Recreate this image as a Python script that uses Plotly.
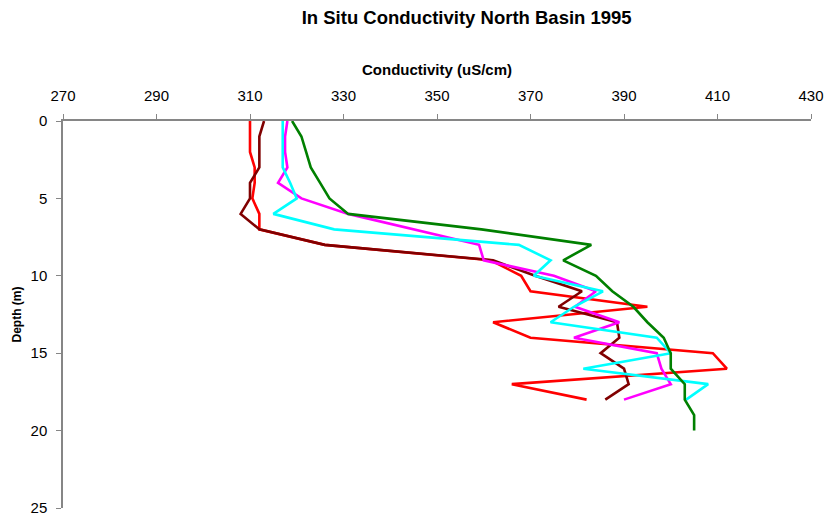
import plotly.graph_objects as go

# Depth of each reading (m)
depth = [0, 1, 2, 3, 4, 5, 6, 7, 8, 9, 10, 11, 12, 13, 14, 15, 16, 17, 18]
depth_long = [0, 1, 2, 3, 4, 5, 6, 7, 8, 9, 10, 11, 12, 13, 14, 15, 16, 17, 18, 19, 20]

# Conductivity profiles (uS/cm)
cond_red = [310, 310, 310, 311, 311, 310.5, 312, 312, 326, 361.5, 368, 370, 395,
            362, 370, 409, 412, 366, 382]
cond_maroon = [313, 312, 312, 312, 310, 310, 308, 312, 326, 362, 371, 381, 376,
               388.5, 389, 385, 390, 391, 386]
cond_magenta = [318, 317.5, 317.5, 318, 316, 321, 331, 345, 359, 360, 375, 384,
                379.5, 389, 379.3, 397, 398, 400, 390]
cond_cyan = [317, 317, 317, 317, 318.6, 320, 315, 328, 367.5, 374.3, 370.7, 385.5,
             379.3, 374.3, 397, 400, 381.3, 408, 403.3]
cond_green = [319, 321, 322, 323, 325, 327, 331, 359.5, 383, 377, 384, 387.5, 392,
              395, 398.5, 400, 400, 403, 403, 405, 405]

x_ticks = [270, 290, 310, 330, 350, 370, 390, 410, 430]
y_ticks = [0, 5, 10, 15, 20, 25]

series = [
    (cond_red, depth, "#FF0000"),
    (cond_maroon, depth, "#800000"),
    (cond_magenta, depth, "#FF00FF"),
    (cond_cyan, depth, "#00FFFF"),
    (cond_green, depth_long, "#008000"),
]

fig = go.Figure()
for xs, ys, color in series:
    fig.add_trace(go.Scatter(x=xs, y=ys, mode="lines",
                             line=dict(color=color, width=2.6),
                             showlegend=False, hoverinfo="skip"))

font_family = "Liberation Sans, Arial, sans-serif"
axis_color = "#868686"

fig.update_layout(
    width=827, height=517,
    margin=dict(l=63, r=16, t=121, b=9),
    paper_bgcolor="white", plot_bgcolor="white",
    font=dict(family=font_family, size=15, color="black"),
    title=dict(text="<b>In Situ Conductivity North Basin 1995</b>",
               x=0.5643, xanchor="center", y=0.967, yanchor="middle",
               font=dict(size=18.5, family=font_family)),
    xaxis=dict(
        side="top", range=[270, 430], tickvals=x_ticks,
        ticktext=[str(v) for v in x_ticks],
        showgrid=False, zeroline=False, automargin=False,
        showline=True, linecolor=axis_color, linewidth=1.5,
        ticks="outside", ticklen=5, tickcolor=axis_color, tickwidth=1,
        ticklabelstandoff=7,
        tickfont=dict(size=15),
        title=dict(text="<b>Conductivity (uS/cm)</b>", standoff=8,
                   font=dict(size=15)),
    ),
    yaxis=dict(
        range=[25, 0], tickvals=y_ticks,
        ticktext=[str(v) for v in y_ticks],
        showgrid=False, zeroline=False, automargin=False,
        showline=True, linecolor=axis_color, linewidth=1.5,
        ticks="outside", ticklen=5, tickcolor=axis_color, tickwidth=1,
        ticklabelstandoff=6,
        tickfont=dict(size=15),
        title=dict(text="<b>Depth (m)</b>", standoff=6,
                   font=dict(size=12)),
    ),
)

fig.write_html("out.html")
